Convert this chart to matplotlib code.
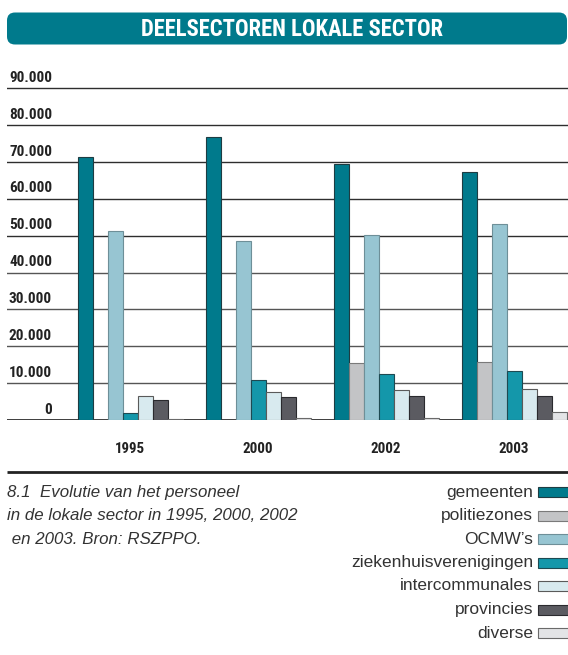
import numpy as np
import matplotlib
matplotlib.use('Agg')
import matplotlib.pyplot as plt
from matplotlib.patches import FancyBboxPatch, Rectangle
from matplotlib.transforms import blended_transform_factory
from matplotlib import font_manager

# Data
years = ['1995', '2000', '2002', '2003']
series = ['gemeenten', 'politiezones', "OCMW\u2019s", 'ziekenhuisverenigingen',
          'intercommunales', 'provincies', 'diverse']
gemeenten = [71300, 76800, 69450, 67300]
politiezones = [0, 0, 15400, 15850]
ocmws = [51150, 48650, 50250, 53150]
ziekenhuis = [1800, 10800, 12500, 13300]
intercommunales = [6500, 7700, 8150, 8350]
provincies = [5400, 6300, 6500, 6600]
diverse = [350, 450, 450, 2250]
yticks = [0, 10000, 20000, 30000, 40000, 50000, 60000, 70000, 80000, 90000]
ytick_labels = ['0', '10.000', '20.000', '30.000', '40.000', '50.000',
                '60.000', '70.000', '80.000', '90.000']

values = [gemeenten, politiezones, ocmws, ziekenhuis, intercommunales, provincies, diverse]
colors = ['#007a8c', '#c3c4c6', '#97c5d2', '#1497aa', '#d8eaef', '#5b5b61', '#e3e4e6']
edges = ['#1e3c42', '#7a7a7a', '#6e8f98', '#1e4a52', '#5a5a5a', '#2a2a2e', '#6a6a6a']

W, H = 568, 655
plain = ['Liberation Sans', 'DejaVu Sans']

# look for a condensed bold face, the reference uses one
names = {f.name for f in font_manager.fontManager.ttflist}
cond_family, cond_stretch = None, 'normal'
for cand in ['Liberation Sans Narrow', 'Roboto Condensed', 'Open Sans Condensed']:
    if cand in names:
        cond_family = cand
        break
if cond_family is None:
    dv = [f for f in font_manager.fontManager.ttflist
          if f.name == 'DejaVu Sans' and f.stretch == 'condensed']
    if dv:
        cond_family, cond_stretch = 'DejaVu Sans', 'condensed'
    else:
        cond_family = 'Liberation Sans'
scale = 1.0 if cond_family != 'Liberation Sans' else 0.84

fig = plt.figure(figsize=(W / 100, H / 100), dpi=100)

# chart area in pixel terms: x 7..568, zero line at y=420, 90.000 at y=88
top_px, zero_px, grid90_px = 75, 420, 88.3
ax = fig.add_axes([7 / W, 1 - zero_px / H, 561 / W, (zero_px - top_px) / H])
ymax = 90000 * (zero_px - top_px) / (zero_px - grid90_px)
ax.set_ylim(0, ymax)

group_px, bar_px, first_center_px = 128, 15, 130.2
w = bar_px / group_px
ax.set_xlim(-(first_center_px - 7) / group_px, (568 - first_center_px) / group_px)

x = np.arange(len(years))
for i, (vals, c, e) in enumerate(zip(values, colors, edges)):
    ax.bar(x + (i - 3) * w, vals, width=w, color=c, edgecolor=e, linewidth=0.8,
           zorder=3, label=series[i])

for v in yticks:
    ax.axhline(v, color='#2e2e2e' if v in (0, 50000, 60000, 70000, 80000, 90000) else '#555555',
               lw=1.3 if v == 0 else 1.0, zorder=1)

for s in ax.spines.values():
    s.set_visible(False)
ax.set_xticks([])
ax.set_yticks([])

tr = blended_transform_factory(ax.transAxes, ax.transData)
px_to_data = ymax / (zero_px - top_px)
for v, lab in zip(yticks, ytick_labels):
    ax.text((52 - 7) / 561, v + 3.5 * px_to_data, lab, transform=tr, ha='right', va='bottom',
            fontsize=11 * scale, fontweight='bold', family=cond_family,
            fontstretch=cond_stretch, color='#222222')

tr2 = blended_transform_factory(ax.transData, ax.transAxes)
for xi, yr in zip(x, years):
    ax.text(xi, -(449 - zero_px) / (zero_px - top_px), yr, transform=tr2, ha='center',
            va='center', fontsize=10.8 * scale, fontweight='bold', family=cond_family,
            fontstretch=cond_stretch, color='#222222')

# overlay in pixel coordinates for banner, caption and legend
ov = fig.add_axes([0, 0, 1, 1], zorder=5)
ov.set_xlim(0, W)
ov.set_ylim(H, 0)
ov.axis('off')
ov.patch.set_alpha(0)

ov.add_patch(FancyBboxPatch((7, 12.5), 560, 32, boxstyle='round,pad=0,rounding_size=8',
                            facecolor='#007a8c', edgecolor='none'))
ov.text(292, 29, 'DEELSECTOREN LOKALE SECTOR', ha='center', va='center', color='white',
        fontsize=16.3 * scale, fontweight='bold', family=cond_family, fontstretch=cond_stretch)

ov.plot([7, W], [471.7, 471.7], color='#222222', lw=2.0, solid_capstyle='butt')

caption = ['8.1  Evolutie van het personeel', 'in de lokale sector in 1995, 2000, 2002',
           ' en 2003. Bron: RSZPPO.']
for k, line in enumerate(caption):
    ov.text(7, 492 + 23.5 * k, line, ha='left', va='center', fontsize=12.2,
            style='italic', family=plain, color='#333333')

for k, (name, c, e) in enumerate(zip(series, colors, edges)):
    yy = 492 + 23.5 * k
    ov.text(533, yy, name, ha='right', va='center', fontsize=12.5, family=plain,
            color='#333333')
    ov.add_patch(Rectangle((538, yy - 5), 31, 10, facecolor=c, edgecolor=e, lw=0.8))

fig.savefig('out.png', dpi=100)
